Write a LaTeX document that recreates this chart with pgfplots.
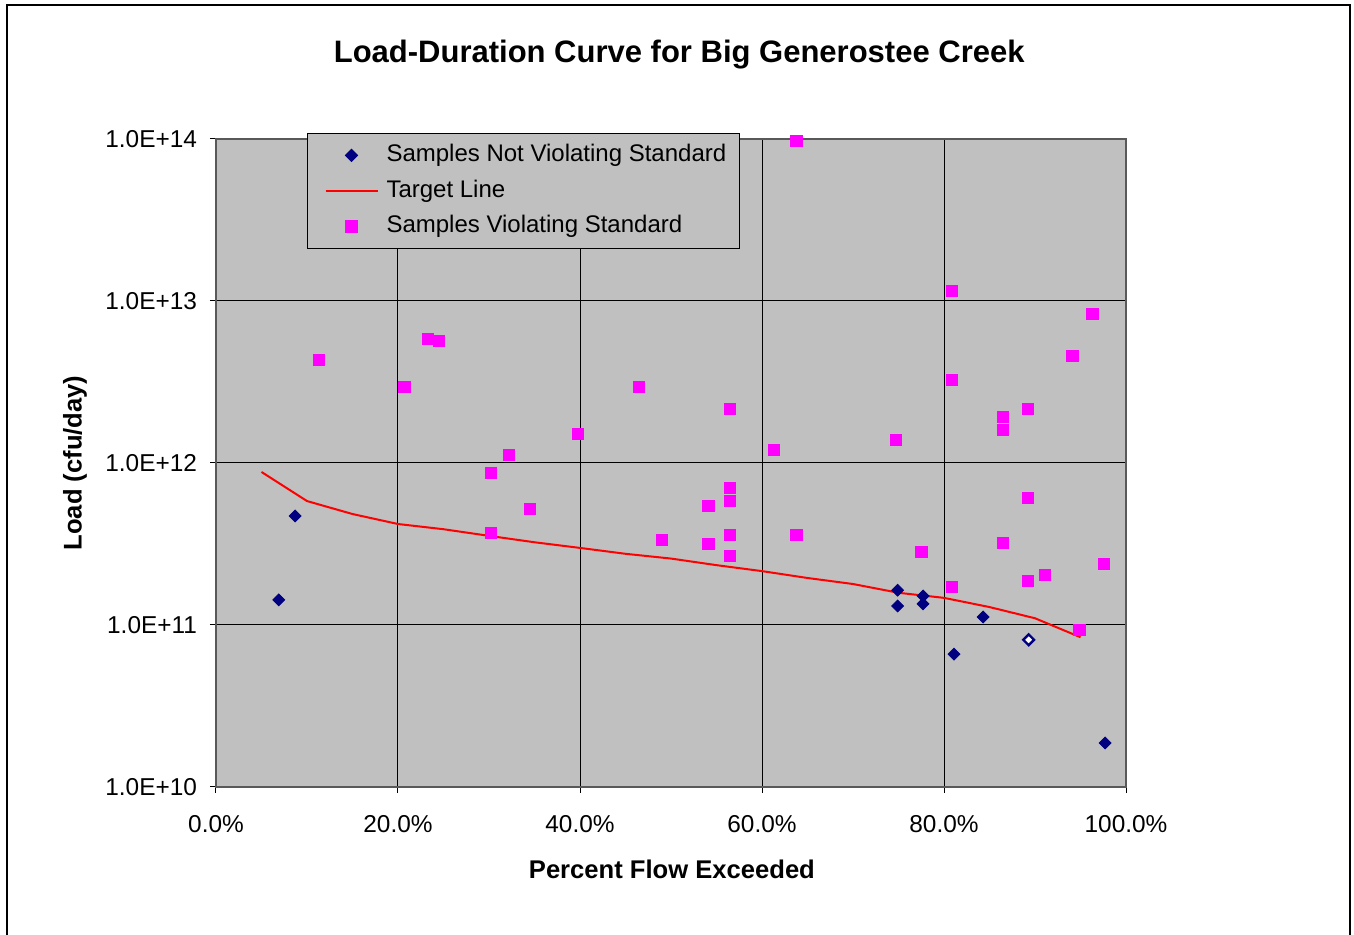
\documentclass[border=0pt]{standalone}
\usepackage{pgfplots}
\pgfplotsset{compat=1.18}
\usepackage{fontspec}
\setmainfont{Liberation Sans}
\definecolor{plotbg}{RGB}{192,192,192}
\definecolor{navyd}{RGB}{0,0,128}
\definecolor{mag}{RGB}{255,0,255}
\begin{document}
\begin{tikzpicture}
\useasboundingbox (-108pt,-74pt) rectangle (569pt,393.5pt);
\draw[black, line width=0.6pt] (-104.5pt,-80pt) rectangle (567pt,391pt);
\begin{axis}[
  scale only axis, width=455pt, height=324pt,
  xmin=0, xmax=100, ymin=1e10, ymax=1e14, ymode=log,
  axis background/.style={fill=plotbg},
  axis line style={draw=gray!70!black, line width=0.8pt},
  grid=major, major grid style={black, line width=0.5pt},
  xtick={0,20,40,60,80,100},
  xticklabels={0.0\%,20.0\%,40.0\%,60.0\%,80.0\%,100.0\%},
  ytick={1e10,1e11,1e12,1e13,1e14},
  yticklabels={1.0E+10,1.0E+11,1.0E+12,1.0E+13,1.0E+14},
  minor y tick style={draw=none},
  tick pos=left,
  tick align=outside, major tick length=3pt, tick style={black, line width=0.5pt},
  ticklabel style={font=\fontsize{12.2}{14}\selectfont},
  xticklabel style={yshift=-7.5pt},
  yticklabel style={xshift=-3pt},
  xlabel={Percent Flow Exceeded}, ylabel={Load (cfu/day)},
  label style={font=\bfseries\fontsize{12.8}{15}\selectfont},
  xlabel style={at={(0.501,-0.1265)}, anchor=center},
  ylabel style={at={(-0.155,0.5)}, anchor=center},
  title={Load-Duration Curve for Big Generostee Creek},
  title style={font=\bfseries\fontsize{15.5}{18}\selectfont, at={(0.509,1.112)}, anchor=center},
  legend style={at={(0.1,1.009)}, anchor=north west, fill=plotbg, draw=black,
    line width=0.5pt, font=\fontsize{12}{14}\selectfont, inner xsep=4.5pt, inner ysep=3pt,
    nodes={inner sep=2pt, text height=9pt, text depth=2.75pt}, row sep=2pt,
    /tikz/every odd column/.append style={column sep=2pt}},
  legend cell align=left,
  legend image code/.code={\path (-4pt,0pt); \draw[mark repeat=2,mark phase=2,#1] plot coordinates {(0pt,0pt) (13pt,0pt) (26pt,0pt)};},
]
\addplot[only marks, mark=square*, mark size=2.1pt, mark options={rotate=45, fill=navyd, draw=navyd}]
coordinates {
(6.9,1.43e11) (8.7,4.71e11) (74.9,1.64e11) (74.9,1.31e11) (77.7,1.51e11)
(77.7,1.35e11) (84.3,1.12e11) (81.1,6.6e10) (97.7,1.87e10)
};
\addlegendentry{Samples Not Violating Standard}
\addplot[red, line width=1pt, mark=none]
coordinates {
(5,8.8e11) (10,5.82e11) (15,4.84e11) (20,4.2e11) (25,3.9e11) (30,3.55e11)
(35,3.24e11) (40,2.99e11) (45,2.75e11) (50,2.57e11) (55,2.34e11) (60,2.15e11)
(65,1.95e11) (70,1.79e11) (75,1.58e11) (80,1.47e11) (85,1.29e11) (90,1.1e11) (95,8.4e10)
};
\addlegendentry{Target Line}
\addplot[only marks, mark=square*, mark size=2.85pt, mark options={fill=mag, draw=mag}]
coordinates {
(11.3,4.33e12) (20.7,2.94e12) (23.3,5.82e12) (24.5,5.66e12) (30.2,8.67e11)
(30.2,3.70e11) (32.2,1.12e12) (34.5,5.2e11) (39.8,1.51e12) (46.5,2.94e12)
(49.0,3.35e11) (54.1,5.43e11) (54.1,3.16e11) (56.5,2.15e12) (56.5,7.0e11)
(56.5,5.82e11) (56.5,3.6e11) (56.5,2.67e11) (63.8,9.7e13) (61.3,1.20e12)
(63.8,3.6e11) (74.7,1.39e12) (77.5,2.83e11) (80.9,1.15e13) (80.9,3.25e12)
(80.9,1.72e11) (86.5,1.92e12) (86.5,1.6e12) (86.5,3.2e11) (89.2,2.15e12)
(89.2,6.1e11) (89.2,1.87e11) (91.1,2.04e11) (94.1,4.57e12) (96.3,8.3e12)
(97.6,2.38e11) (94.9,9.3e10)
};
\addlegendentry{Samples Violating Standard}
\addplot[only marks, mark=square*, mark size=1.9pt, mark options={rotate=45, fill=white, draw=navyd, line width=1.2pt}, forget plot]
coordinates {(89.3,8.1e10)};
\end{axis}
\end{tikzpicture}
\end{document}
